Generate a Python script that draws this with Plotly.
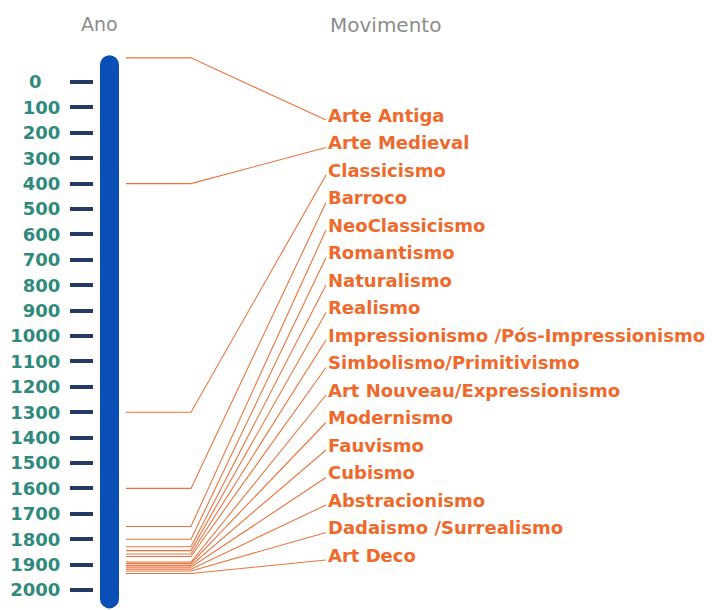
import plotly.graph_objects as go

# ---- data ----
movements = ["Arte Antiga", "Arte Medieval", "Classicismo", "Barroco", "NeoClassicismo",
             "Romantismo", "Naturalismo", "Realismo",
             "Impressionismo /Pós-Impressionismo", "Simbolismo/Primitivismo",
             "Art Nouveau/Expressionismo", "Modernismo", "Fauvismo", "Cubismo",
             "Abstracionismo", "Dadaismo /Surrealismo", "Art Deco"]
start_years = [-95, 400, 1300, 1600, 1750, 1800, 1830, 1845, 1858, 1868, 1890,
               1895, 1903, 1910, 1918, 1925, 1935]
tick_years = list(range(0, 2001, 100))
tick_labels = ["0&nbsp;&nbsp;&nbsp;"] + [str(v) for v in tick_years[1:]]
timeline_start = -68
timeline_end = 2035

# ---- layout helpers (pixel mapping; page has an 8px body margin) ----
OFF = 8
W, H = 728, 610
PLOT_LEFT = 94 - OFF
PX_PER_YEAR = 0.254
Y0_PX = 82 - OFF  # paper pixel of year 0


def px_to_year(page_py):
    return (page_py - OFF - Y0_PX) / PX_PER_YEAR


y_range = [(H - Y0_PX) / PX_PER_YEAR, (0 - Y0_PX) / PX_PER_YEAR]


def xp(page_px):
    return page_px - OFF


LINE_X0, LINE_X1, LINE_X2 = xp(126), xp(191), xp(326)
LABEL_X = xp(326)
LABEL_Y0, LABEL_STEP = 115, 27.5

label_centers = [px_to_year(LABEL_Y0 + LABEL_STEP * i) for i in range(len(movements))]
label_anchors = [px_to_year(LABEL_Y0 + LABEL_STEP * i + 5) for i in range(len(movements))]

line_color = "#ea7440"
label_color = "#ef692b"
bar_color = "#0a4fb6"
tick_color = "#263a66"
ticklabel_color = "#2f8a7c"

fig = go.Figure()

lx, ly = [], []
for yr, anc in zip(start_years, label_anchors):
    lx += [LINE_X0, LINE_X1, LINE_X2, None]
    ly += [yr, yr, anc, None]
fig.add_trace(go.Scatter(x=lx, y=ly, mode="lines",
                         line=dict(color=line_color, width=1.1),
                         hoverinfo="skip", showlegend=False))

fig.add_trace(go.Scatter(x=[xp(109.5), xp(109.5)], y=[timeline_start, timeline_end],
                         mode="lines+markers",
                         line=dict(color=bar_color, width=19),
                         marker=dict(color=bar_color, size=19, line=dict(width=0)),
                         hoverinfo="skip", showlegend=False))

for name, yc in zip(movements, label_centers):
    fig.add_annotation(x=LABEL_X, y=yc, xref="x", yref="y", text=name,
                       showarrow=False, xanchor="left", yanchor="middle",
                       font=dict(family="DejaVu Sans", size=18, color=label_color,
                                 weight="bold"))

fig.add_annotation(x=xp(99), y=1 - (24 - OFF) / H, xref="x", yref="paper", text="Ano",
                   showarrow=False, xanchor="center", yanchor="middle",
                   font=dict(family="DejaVu Sans", size=19, color="#8c8c8c"))
fig.add_annotation(x=xp(385), y=1 - (25 - OFF) / H, xref="x", yref="paper", text="Movimento",
                   showarrow=False, xanchor="center", yanchor="middle",
                   font=dict(family="DejaVu Sans", size=20, color="#8c8c8c"))

fig.update_layout(
    width=W, height=H,
    margin=dict(l=PLOT_LEFT, r=0, t=0, b=0, autoexpand=False),
    paper_bgcolor="white", plot_bgcolor="white",
    xaxis=dict(range=[PLOT_LEFT, W], visible=False, fixedrange=True),
    yaxis=dict(range=y_range, tickvals=tick_years, ticktext=tick_labels,
               ticks="outside", ticklen=23, tickwidth=3.5, tickcolor=tick_color,
               ticklabelstandoff=6,
               tickfont=dict(family="DejaVu Sans", size=18, color=ticklabel_color,
                             weight="bold"),
               showgrid=False, zeroline=False, showline=False, fixedrange=True),
)

fig.write_html("out.html")
